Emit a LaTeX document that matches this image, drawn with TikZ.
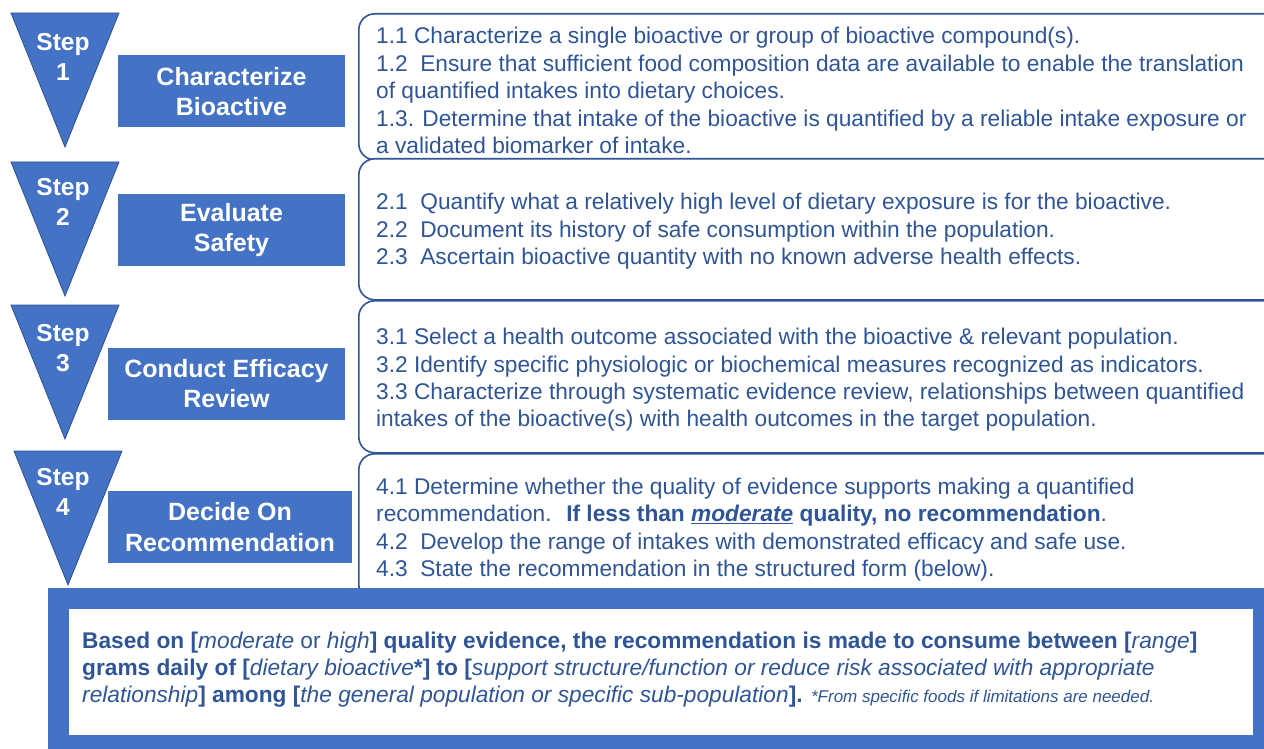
\documentclass[tikz,border=0pt]{standalone}
\usepackage{fontspec}
\setmainfont{Liberation Sans}
\usepackage{xcolor}
\usepackage{tikz}
\usetikzlibrary{
    calc
}
\definecolor{stepblue}{HTML}{4472C4}
\definecolor{edgeblue}{HTML}{2F528F}
\definecolor{textblue}{HTML}{2F5597}
\tikzset{
    steptri/.style={
        fill=stepblue,
        draw=edgeblue,
        line width=0.8pt
    }
}
\tikzset{
    stepnum/.style={
        font=\fontsize{24.5}{30}\selectfont\bfseries,
        text=white,
        align=center,
        inner sep=0pt
    }
}
\tikzset{
    phase/.style={
        fill=stepblue,
        minimum height=72pt,
        align=center,
        inner sep=0pt,
        text=white,
        font=\fontsize{25}{30.5}\selectfont\bfseries
    }
}
\tikzset{
    taskbox/.style={
        draw=textblue,
        line width=1.6pt,
        rounded corners=16pt,
        fill=white,
        minimum width=930pt,
        inner sep=0pt,
        anchor=north west
    }
}
\tikzset{
    tasktext/.style={
        anchor=west,
        align=left,
        inner sep=0pt,
        text=textblue,
        font=\fontsize{22.7}{27.4}\selectfont
    }
}
\tikzset{
    recframe/.style={
        draw=stepblue,
        line width=21pt,
        fill=white,
        inner sep=0pt,
        minimum width=1205pt,
        minimum height=147pt
    }
}
\tikzset{
    rectext/.style={
        anchor=west,
        align=left,
        inner sep=0pt,
        text=textblue,
        font=\fontsize{22.7}{27}\selectfont
    }
}

\begin{document}
\begin{tikzpicture}[
    x=1pt,
    y=-1pt
]

\useasboundingbox (0,0) rectangle (1264,749);
\clip (0,0) rectangle (1264,749);

% ------------------------------------------------------------
% Step triangles
% ------------------------------------------------------------

\foreach \n/\x/\y/\ty in {1/11/13/57, 2/11/162/202, 3/11/305/348, 4/14/451/492} {
    \path[steptri] (\x,\y) -- ++(108,0) -- ++(-54,134) -- cycle;
    \node[stepnum] (step\n) at (63,\ty) {Step\\\n};
}

% ------------------------------------------------------------
% Phase labels
% ------------------------------------------------------------

\node[phase, minimum width=227pt] (charact) at (231.5,91.5) {Characterize\\Bioactive};
\node[phase, minimum width=227pt] (safety) at (231.5,230) {Evaluate\\Safety};
\node[phase, minimum width=237pt] (efficacy) at (226.5,383.5) {Conduct Efficacy\\Review};
\node[phase, minimum width=244pt] (decide) at (230,527) {Decide On\\Recommendation};

% ------------------------------------------------------------
% Task boxes
% ------------------------------------------------------------

\node[taskbox, minimum height=146pt] (task1) at (358,13) {};
\node[taskbox, minimum height=141pt] (task2) at (358,158) {};
\node[taskbox, minimum height=152pt] (task3) at (358,300) {};
\node[taskbox, minimum height=147pt] (task4) at (358,453) {};

\node[tasktext] (text1) at (376,90.5) {
    1.1 Characterize a single bioactive or group of bioactive compound(s).\\
    1.2~ Ensure that sufficient food composition data are available to enable the translation\\
    of quantified intakes into dietary choices.\\
    1.3. Determine that intake of the bioactive is quantified by a reliable intake exposure or\\
    a validated biomarker of intake.};
\node[tasktext] (text2) at (376,231.5) {
    2.1~ Quantify what a relatively high level of dietary exposure is for the bioactive.\\
    2.2~ Document its history of safe consumption within the population.\\
    2.3~ Ascertain bioactive quantity with no known adverse health effects.};
\node[tasktext] (text3) at (376,380) {
    3.1 Select a health outcome associated with the bioactive \& relevant population.\\
    3.2 Identify specific physiologic or biochemical measures recognized as indicators.\\
    3.3 Characterize through systematic evidence review, relationships between quantified\\
    intakes of the bioactive(s) with health outcomes in the target population.};
\node[tasktext] (text4) at (376,529.5) {
    4.1 Determine whether the quality of evidence supports making a quantified\\
    recommendation.~ \textbf{If less than \underline{\textit{moderate}} quality, no recommendation}.\\
    4.2~ Develop the range of intakes with demonstrated efficacy and safe use.\\
    4.3~ State the recommendation in the structured form (below).};

% ------------------------------------------------------------
% Structured recommendation
% ------------------------------------------------------------

\node[recframe] (rec) at (661,672) {};
\node[rectext] (rectxt) at (82,669.5) {
    \textbf{Based on [}\textit{moderate} or \textit{high}\textbf{] quality evidence, the recommendation is made to consume between [}\textit{range}\textbf{]}\\
    \textbf{grams daily of [}\textit{dietary bioactive}\textbf{*] to [}\textit{support structure/function or reduce risk associated with appropriate}\\
    \textit{relationship}\textbf{] among [}\textit{the general population or specific sub-population}\textbf{].}
    {\fontsize{17}{20}\selectfont\itshape *From specific foods if limitations are needed.}};

\end{tikzpicture}
\end{document}
